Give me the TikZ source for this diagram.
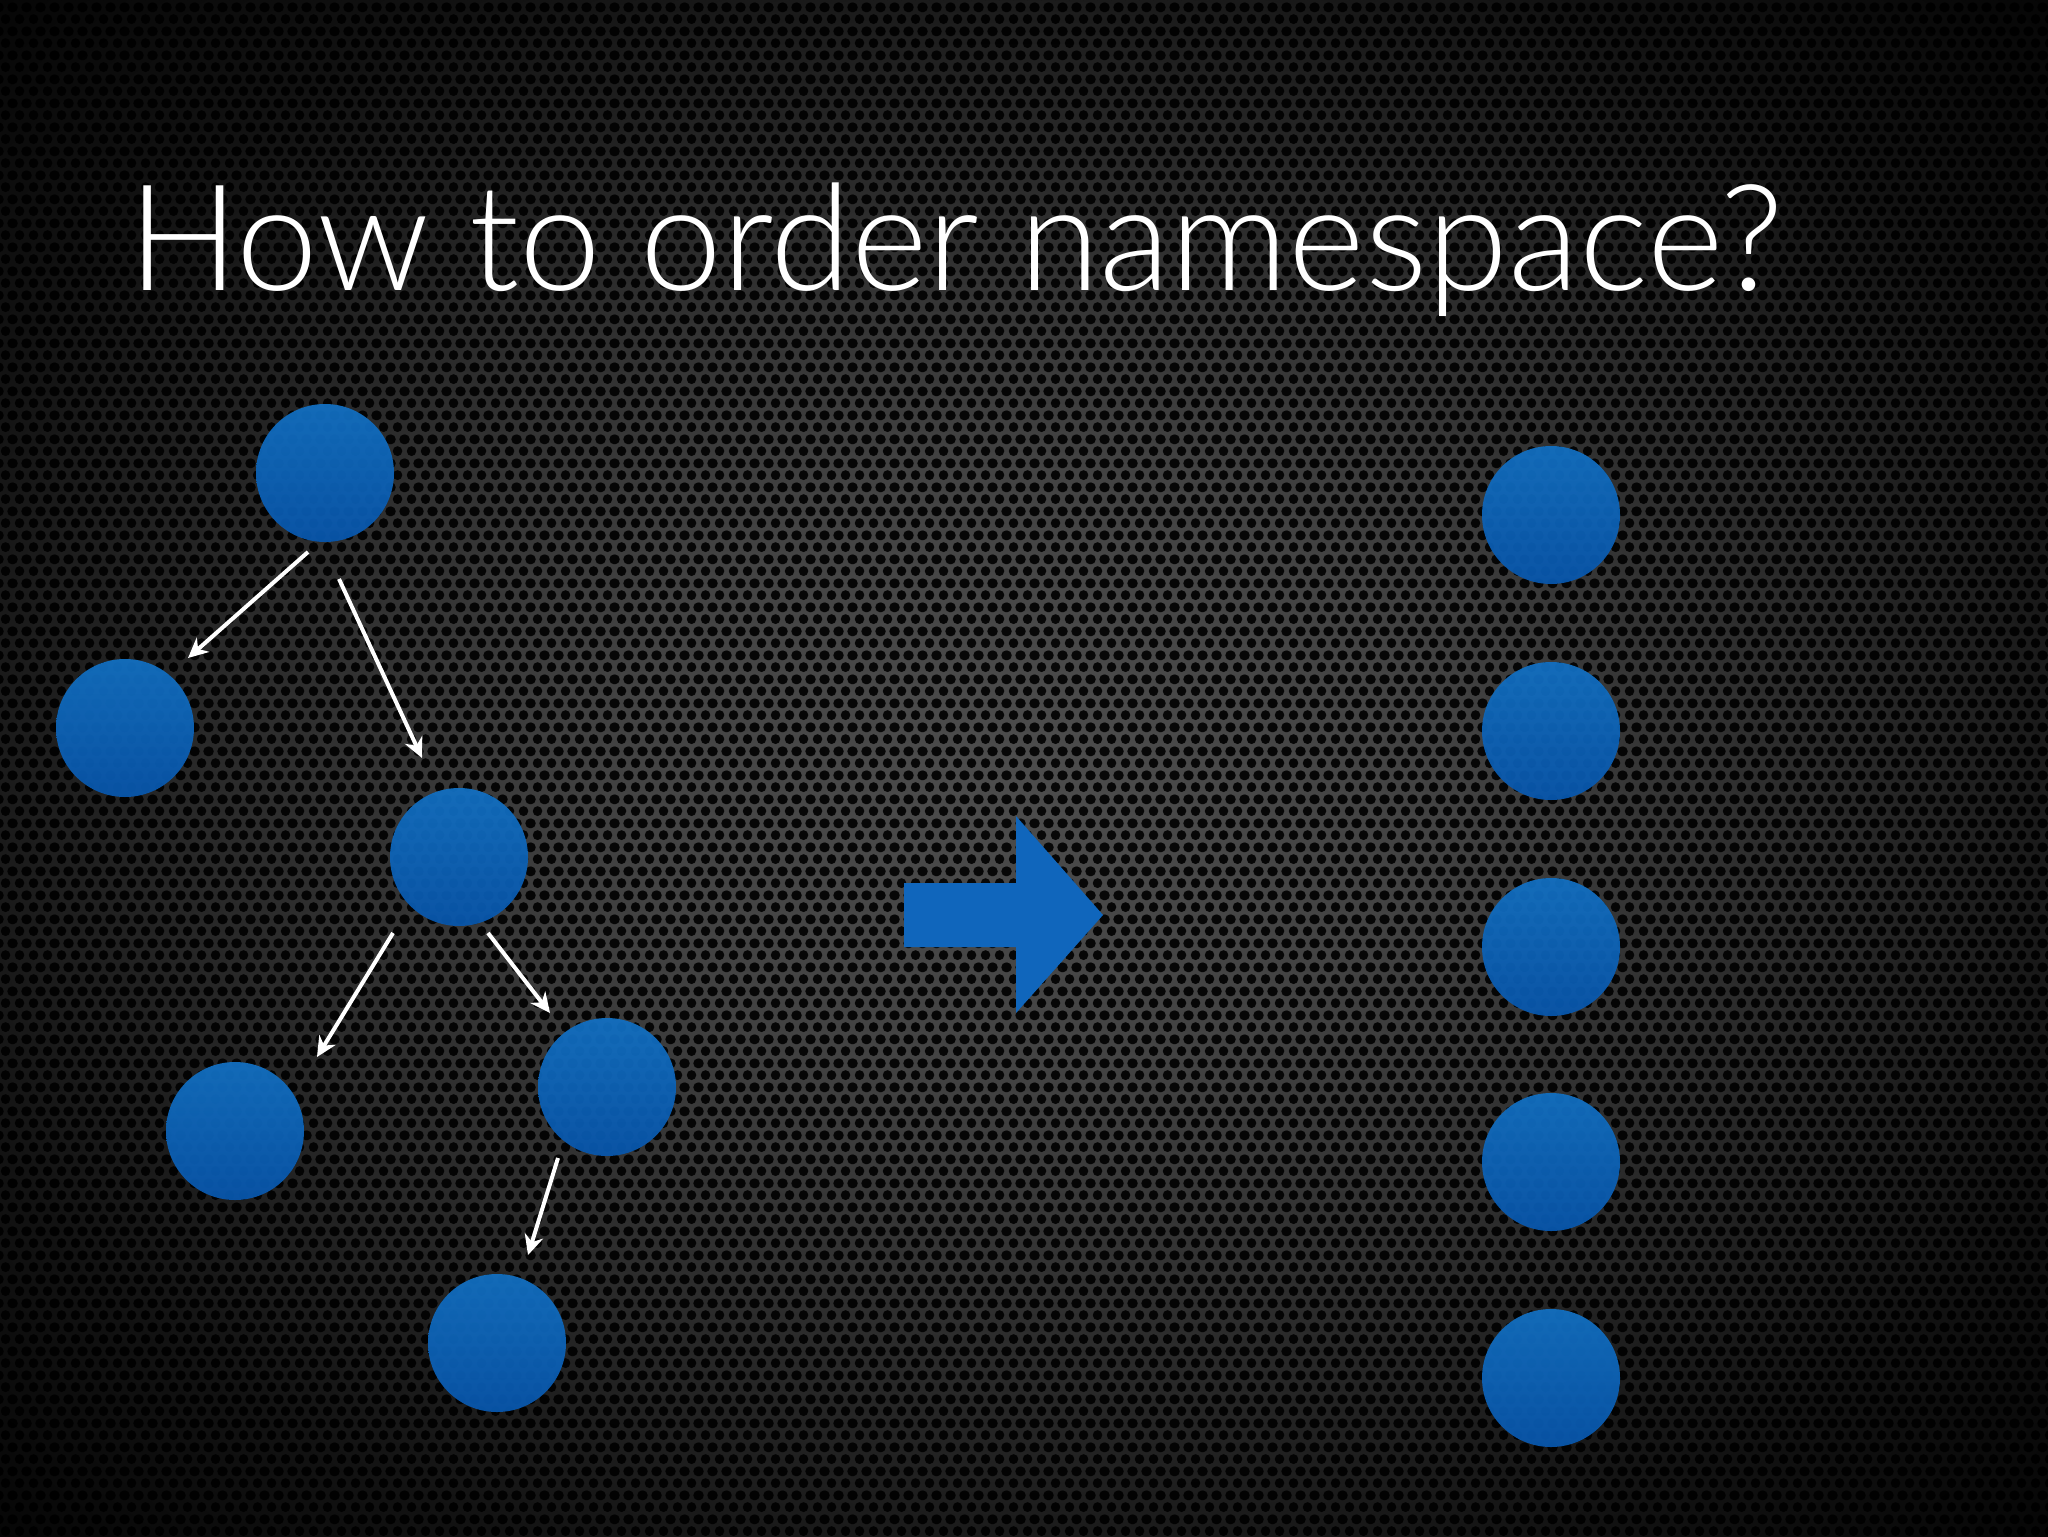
\documentclass[tikz,border=0pt]{standalone}
\usepackage{fontspec}
\setmainfont{Liberation Sans}
\IfFontExistsTF{Lato Light}
  {\newfontfamily\titlefont{Lato Light}[FakeStretch=0.99]}
  {\newfontfamily\titlefont{Liberation Sans}[FakeStretch=0.955]}
\usetikzlibrary{arrows.meta,calc,patterns.meta}

\definecolor{dotblue}{RGB}{18,112,194}
\definecolor{dotblueb}{RGB}{8,86,172}
\definecolor{bigblue}{RGB}{16,102,188}

\pgfdeclareradialshading{metal}{\pgfpoint{0bp}{0bp}}{color(0bp)=(black!70); color(10bp)=(black!74); color(20bp)=(black!84); color(28bp)=(black!93); color(36bp)=(black!98); color(50bp)=(black!98)}

\tikzdeclarepattern{
  name=holes,
  type=uncolored,
  bounding box={(0pt,0pt) and (7pt,12.124pt)},
  tile size={(7pt,12.124pt)},
  code={
    \fill (3.5pt,3.031pt) circle (2.55pt);
    \fill (0pt,9.093pt) circle (2.55pt);
    \fill (7pt,9.093pt) circle (2.55pt);
  }
}

\tikzset{
  dot/.style={circle, minimum size=69pt, inner sep=0pt, draw=none,
    top color=dotblue, bottom color=dotblueb, fill opacity=0.94},
  link/.style={draw=white, line width=2pt,
    -{Stealth[length=10pt,width=9.5pt]}},
}

\begin{document}
\begin{tikzpicture}[x=0.5pt,y=-0.5pt]
\useasboundingbox (0,0) rectangle (2048,1536);
\shade[shading=metal] (0,0) rectangle (2048,1536);
\fill[pattern=holes, pattern color=black, fill opacity=0.9] (0,0) rectangle (2048,1536);

\node[anchor=base west, inner sep=0pt, text=white,
  font=\titlefont\fontsize{74pt}{80pt}\selectfont] (title) at (128,290) {How to order namespace?};

% tree
\node[dot] (A) at (325,473) {};
\node[dot] (B) at (125,728) {};
\node[dot] (C) at (459,857) {};
\node[dot] (D) at (235,1131) {};
\node[dot] (E) at (607,1087) {};
\node[dot] (F) at (497,1343) {};

\draw[link] ($(A.center)+(-17,79)$) -- ($(B.center)+(63,-70)$);
\draw[link] ($(A.center)+(14,106)$) -- ($(C.center)+(-37,-99)$);
\draw[link] ($(C.center)+(-66,76)$) -- ($(D.center)+(82,-74)$);
\draw[link] ($(C.center)+(29,76)$) -- ($(E.center)+(-57,-74)$);
\draw[link] ($(E.center)+(-49,71)$) -- ($(F.center)+(31,-88)$);

% big arrow
\fill[bigblue] (904,883) -- (1016,883) -- (1016,816) -- (1103,915) -- (1016,1013) -- (1016,947) -- (904,947) -- cycle;

% list
\node[dot] (R1) at (1551,515) {};
\node[dot] (R2) at (1551,731) {};
\node[dot] (R3) at (1551,947) {};
\node[dot] (R4) at (1551,1162) {};
\node[dot] (R5) at (1551,1378) {};
\end{tikzpicture}
\end{document}
